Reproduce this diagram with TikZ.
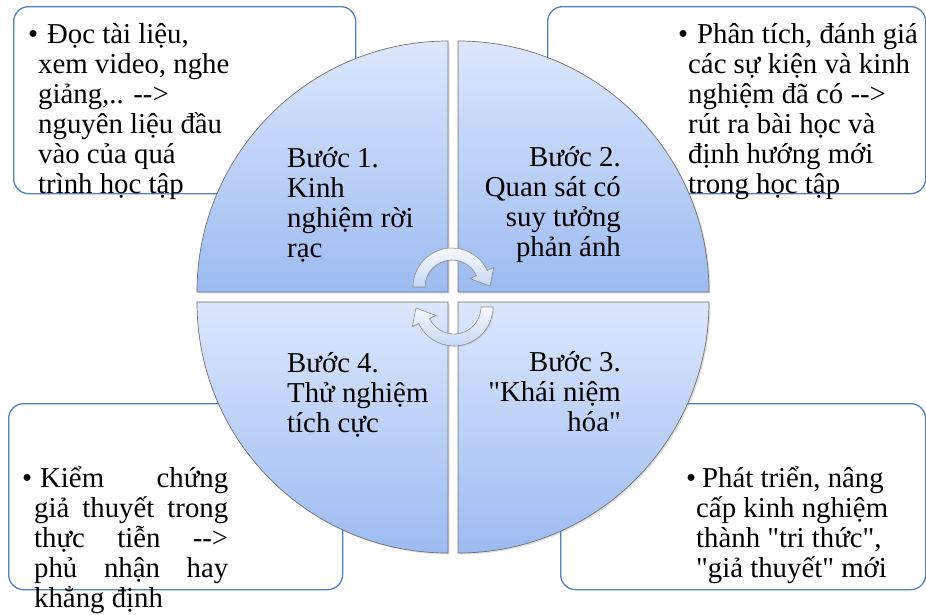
\documentclass[tikz,border=0pt]{standalone}
\usepackage{fontspec}
\setmainfont{Liberation Serif}[Ligatures=TeXOff]
\usetikzlibrary{shadows}
\definecolor{boxblue}{HTML}{4F81BD}
\definecolor{qtop}{HTML}{DCE7FC}
\definecolor{qbot}{HTML}{9DBBF1}
\definecolor{qedge}{HTML}{707070}
\definecolor{arrtop}{HTML}{F7F9FE}
\definecolor{arrbot}{HTML}{C6D7F4}
\definecolor{arredge}{HTML}{8C8C8C}
\begin{document}
\begin{tikzpicture}[x=1pt,y=-1pt,
  infobox/.style={draw=boxblue, line width=1.3pt, rounded corners=15pt, fill=white, anchor=north west, inner sep=0pt},
  quad/.style={top color=qtop, bottom color=qbot, draw=qedge, line width=0.7pt,
    drop shadow={opacity=0.25, shadow xshift=1.5pt, shadow yshift=-1.5pt}},
  cyc/.style={top color=arrtop, bottom color=arrbot, draw=arredge, line width=0.6pt,
    drop shadow={opacity=0.2, shadow xshift=1pt, shadow yshift=-1pt}},
  txtl/.style={inner sep=0pt, anchor=base west, font=\fontsize{28.8}{30}\selectfont},
  txtr/.style={inner sep=0pt, anchor=base east, font=\fontsize{28.8}{30}\selectfont},
]
\useasboundingbox (0,0) rectangle (926,614);

% corner boxes
\node[infobox, minimum width=342pt, minimum height=187pt] (b1) at (13,6) {};
\node[infobox, minimum width=378pt, minimum height=187pt] (b2) at (547,6) {};
\node[infobox, minimum width=334pt, minimum height=186pt] (b4) at (8,403) {};
\node[infobox, minimum width=365pt, minimum height=186pt] (b3) at (560,403) {};

% quadrants
\path[quad] (448,292) -- (197,292) arc (180:270:251) -- cycle;
\path[quad] (458,292) -- (458,41) arc (270:360:251) -- cycle;
\path[quad] (458,302) -- (709,302) arc (0:90:251) -- cycle;
\path[quad] (448,302) -- (448,553) arc (90:180:251) -- cycle;

% circular arrows
\begin{scope}[shift={(452,287)}]
  \path[cyc] (180:39) arc (180:335:39) -- (335:46) -- (38,-1) -- (335:20) -- (335:27) arc (335:180:27) -- cycle;
\end{scope}
\begin{scope}[shift={(454,307)}, rotate=180]
  \path[cyc] (180:39) arc (180:335:39) -- (335:46) -- (38,-1) -- (335:20) -- (335:27) arc (335:180:27) -- cycle;
\end{scope}

% box texts
\node[txtl] (t1) at (28,43) {\parbox[t]{320pt}{\raggedright
\makebox[19pt][l]{•}Đọc tài liệu,\\
\hspace*{10pt}xem video, nghe\\
\hspace*{10pt}giảng,.. -->\\
\hspace*{10pt}nguyên liệu đầu\\
\hspace*{10pt}vào của quá\\
\hspace*{10pt}trình học tập}};

\node[txtl] (t2) at (678,43) {\parbox[t]{245pt}{\raggedright
\makebox[19pt][l]{•}Phân tích, đánh giá\\
\hspace*{10pt}các sự kiện và kinh\\
\hspace*{10pt}nghiệm đã có -->\\
\hspace*{10pt}rút ra bài học và\\
\hspace*{10pt}định hướng mới\\
\hspace*{10pt}trong học tập}};

\node[txtl] (t4) at (22,487) {\parbox[t]{240pt}{\raggedright
\makebox[18pt][l]{•}\makebox[188pt][s]{Kiểm chứng}\\
\hspace*{12pt}\makebox[194pt][s]{giả thuyết trong}\\
\hspace*{12pt}\makebox[194pt][s]{thực tiễn -->}\\
\hspace*{12pt}\makebox[194pt][s]{phủ nhận hay}\\
\hspace*{12pt}khẳng định}};

\node[txtl] (t3) at (686,487) {\parbox[t]{235pt}{\raggedright
\makebox[16pt][l]{•}Phát triển, nâng\\
\hspace*{10pt}cấp kinh nghiệm\\
\hspace*{10pt}thành "tri thức",\\
\hspace*{10pt}"giả thuyết" mới}};

% quadrant texts
\node[txtl] (q1) at (287,167) {\parbox[t]{150pt}{\raggedright
Bước 1.\\Kinh\\nghiệm rời\\rạc}};
\node[txtr] (q2) at (621,166) {\parbox[t]{150pt}{\raggedleft
Bước 2.\\Quan sát có\\suy tưởng\\phản ánh}};
\node[txtr] (q3) at (621,371) {\parbox[t]{150pt}{\raggedleft
Bước 3.\\"Khái niệm\\hóa"}};
\node[txtl] (q4) at (287,372) {\parbox[t]{150pt}{\raggedright
Bước 4.\\Thử nghiệm\\tích cực}};
\end{tikzpicture}
\end{document}
